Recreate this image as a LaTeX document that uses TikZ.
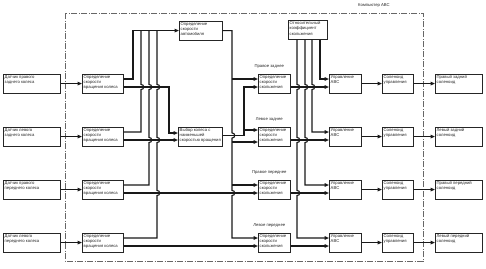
\documentclass[tikz,border=0pt]{standalone}
\usepackage{fontspec}
\setmainfont{Liberation Sans}
\usetikzlibrary{calc,arrows.meta}
\tikzset{
  box/.style={draw=black!85, line width=0.6pt, anchor=north west, inner sep=0pt, fill=white},
  lbl/.style={anchor=north west, inner sep=0pt, align=left, font=\fontsize{4.2}{5.1}\selectfont, text=black!85},
  captxt/.style={anchor=center, inner sep=0pt, font=\fontsize{4.2}{5.1}\selectfont, text=black!85},
  conn/.style={line width=1.1pt, draw=black!90},
  arr/.style={conn, -{Triangle[length=4.5pt,width=3.6pt]}},
  frame/.style={draw=black!60, line width=0.6pt, dash pattern=on 6pt off 1.5pt on 1pt off 1.5pt},
}
\newcommand\bx[6]{\node[box,minimum width=#4pt,minimum height=#5pt] (#1) at (#2,#3) {};
  \node[lbl] (#1t) at ($(#1.north west)+(1.5,1.5)$) {#6};}
% bump on a vertical line going down / up, at crossing (x of #1, y of #2)
\newcommand\jd[2]{-- ($(#1|-#2)+(0,-2.6)$) .. controls +(3.6,0) and +(3.6,0) .. ($(#1|-#2)+(0,2.6)$)}
\newcommand\ju[2]{-- ($(#1|-#2)+(0,2.6)$) .. controls +(3.6,0) and +(3.6,0) .. ($(#1|-#2)+(0,-2.6)$)}
\begin{document}
\begin{tikzpicture}[x=1pt,y=-1pt]
\useasboundingbox (0,0) rectangle (486,268);
% frame
\draw[frame] (65,13) rectangle (423,261);
\node[captxt] (fl) at (374,5.5) {Компьютер ABC};
% sensors
\bx{se1}{3}{74}{57}{18.5}{Датчик правого\\заднего колеса}
\bx{se2}{3}{127}{57}{18.5}{Датчик левого\\заднего колеса}
\bx{se3}{3}{180}{57}{18.5}{Датчик правого\\переднего колеса}
\bx{se4}{3}{233}{57}{18.5}{Датчик левого\\переднего колеса}
% wheel speed
\bx{sp1}{82}{74}{41}{18.5}{Определение\\скорости\\вращения колеса}
\bx{sp2}{82}{127}{41}{18.5}{Определение\\скорости\\вращения колеса}
\bx{sp3}{82}{180}{41}{18.5}{Определение\\скорости\\вращения колеса}
\bx{sp4}{82}{233}{41}{18.5}{Определение\\скорости\\вращения колеса}
% vehicle speed, select
\bx{vs}{179}{21}{43}{18.5}{Определение\\скорости\\автомобиля}
\bx{sel}{178}{127}{44}{18.5}{Выбор колеса с\\наименьшей\\скоростью вращения}
% slip
\bx{sl1}{258}{74}{32}{18.5}{Определение\\скорости\\скольжения}
\bx{sl2}{258}{127}{32}{18.5}{Определение\\скорости\\скольжения}
\bx{sl3}{258}{180}{32}{18.5}{Определение\\скорости\\скольжения}
\bx{sl4}{258}{233}{32}{18.5}{Определение\\скорости\\скольжения}
\node[captxt] (lb1) at ($(sl1.north)+(-5,-7.5)$) {Правое заднее};
\node[captxt] (lb2) at ($(sl2.north)+(-5,-7.5)$) {Левое заднее};
\node[captxt] (lb3) at ($(sl3.north)+(-5,-7.5)$) {Правое переднее};
\node[captxt] (lb4) at ($(sl4.north)+(-5,-7.5)$) {Левое переднее};
% relative coefficient
\bx{rc}{288}{20}{39}{19}{Относительный\\коэффициент\\скольжения}
% ABC control
\bx{ab1}{329}{74}{32}{18.5}{Управление\\ABC}
\bx{ab2}{329}{127}{32}{18.5}{Управление\\ABC}
\bx{ab3}{329}{180}{32}{18.5}{Управление\\ABC}
\bx{ab4}{329}{233}{32}{18.5}{Управление\\ABC}
% solenoid control
\bx{so1}{382}{74}{31}{18.5}{Соленоид\\управления}
\bx{so2}{382}{127}{31}{18.5}{Соленоид\\управления}
\bx{so3}{382}{180}{31}{18.5}{Соленоид\\управления}
\bx{so4}{382}{233}{31}{18.5}{Соленоид\\управления}
% final solenoids
\bx{fi1}{435}{74}{47}{18.5}{Правый задний\\соленоид}
\bx{fi2}{435}{127}{47}{18.5}{Левый задний\\соленоид}
\bx{fi3}{435}{180}{47}{18.5}{Правый передний\\соленоид}
\bx{fi4}{435}{233}{47}{18.5}{Левый передний\\соленоид}
% helper coordinates
\foreach \i in {1,2,3,4}{
  \coordinate (o\i u) at ($(sp\i.north east)+(0,5)$);
  \coordinate (o\i l) at ($(sp\i.north east)+(0,13)$);
  \coordinate (au\i) at ($(ab\i.north west)+(0,5)$);
  \coordinate (al\i) at ($(ab\i.north west)+(0,13)$);
}
\coordinate (iu1) at ($(sl1.north west)+(0,5)$);
\coordinate (il1) at ($(sl1.north west)+(0,13)$);
\coordinate (iu2) at ($(sl2.north west)+(0,3)$);
\coordinate (il2) at ($(sl2.north west)+(0,15)$);
\coordinate (iu3) at ($(sl3.north west)+(0,5)$);
\coordinate (il3) at ($(sl3.north west)+(0,13)$);
\coordinate (iu4) at ($(sl4.north west)+(0,5)$);
\coordinate (il4) at ($(sl4.north west)+(0,13)$);
\coordinate (s1in) at ($(sel.north west)+(0,6)$);
\coordinate (selo) at ($(sel.north east)+(0,8.5)$);
\coordinate (bA) at (133,0);
\coordinate (bB) at (141,0);
\coordinate (bC) at (149,0);
\coordinate (bD) at (157,0);
\coordinate (bE) at (169,0);
\coordinate (V1) at (232,0);
\coordinate (V2) at (244,0);
\coordinate (R1) at (297,0);
\coordinate (R2) at (305,0);
\coordinate (R3) at (312,0);
\coordinate (R4) at (320,0);
% sensors -> wheel speed
\foreach \i in {1,2,3,4}{
  \draw[arr] (se\i.east) -- (sp\i.west);
  \draw[arr] (ab\i.east) -- (so\i.west);
  \draw[arr] (so\i.east) -- (fi\i.west);
}
% wheel speeds -> vehicle speed
\draw[arr] (o1u) -| (bA |- vs.west) -- (vs.west);
\draw[conn] (o2u) -- (bB |- o2u) \ju{bB}{o1l} -- (bB |- vs.west);
\draw[conn] (o3u) -- (bC |- o3u) \ju{bC}{o2l} \ju{bC}{o1l} -- (bC |- vs.west);
\draw[conn] (o4u) -- (bD |- o4u) \ju{bD}{o3l} \ju{bD}{o2l} \ju{bD}{o1l} -- (bD |- vs.west);
% wheel speeds -> select / slip
\draw[arr] (o1l) -| (bE |- s1in) -- (s1in);
\draw[arr] (o2l) -- (sel.west |- o2l);
\draw[arr] (o3l) -- (il3);
\draw[arr] (o4l) -- (il4);
% vehicle speed -> slip
\draw[arr] (vs.east) -- (V1 |- vs.east) \jd{V1}{selo} \jd{V1}{o3l} -- (V1 |- iu4) -- (iu4);
\draw[arr] (V1 |- iu1) -- (iu1);
\draw[arr] (V1 |- il2) -- (il2);
\draw[arr] (V1 |- iu3) -- (iu3);
% select -> rear slip
\draw[conn] (selo) -- (V2 |- selo);
\draw[arr] (V2 |- selo) |- (il1);
\draw[arr] (V2 |- selo) |- (iu2);
% slip -> ABC
\foreach \i in {1,2,3,4}{
  \draw[arr] (sl\i.east |- al\i) -- (al\i);
}
% relative coefficient -> ABC
\draw[arr] (R4 |- rc.south) |- (au1);
\draw[arr] (R3 |- rc.south) \jd{R3}{al1} |- (au2);
\draw[arr] (R2 |- rc.south) \jd{R2}{al1} \jd{R2}{al2} |- (au3);
\draw[arr] (R1 |- rc.south) \jd{R1}{al1} \jd{R1}{al2} \jd{R1}{al3} |- (au4);
\end{tikzpicture}
\end{document}
